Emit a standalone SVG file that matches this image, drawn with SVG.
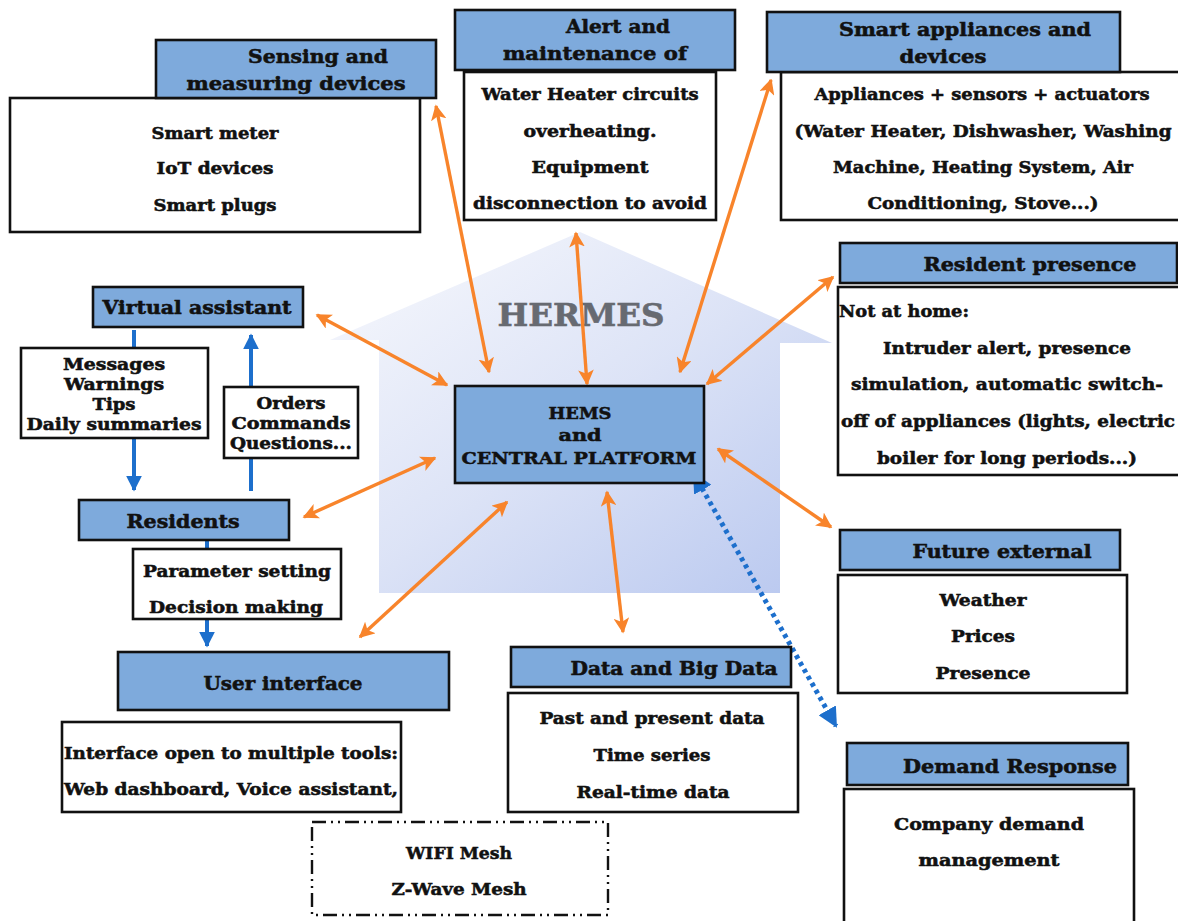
<svg xmlns="http://www.w3.org/2000/svg" width="1178" height="921" viewBox="0 0 1178 921">
<defs>
<linearGradient id="houseGrad" x1="0" y1="0" x2="1" y2="1">
<stop offset="0" stop-color="#f8f9fd"/>
<stop offset="0.5" stop-color="#dbe2f6"/>
<stop offset="1" stop-color="#b4c4ee"/>
</linearGradient>
<marker id="oa" viewBox="0 0 10 10" refX="9" refY="5" markerWidth="4.6" markerHeight="4.6" orient="auto-start-reverse" markerUnits="strokeWidth">
<path d="M0,0 L10,5 L0,10 L2.5,5 z" fill="#f8842b"/>
</marker>
<marker id="ba" viewBox="0 0 10 10" refX="9" refY="5" markerWidth="4" markerHeight="4" orient="auto-start-reverse" markerUnits="strokeWidth">
<path d="M0,0 L10,5 L0,10 z" fill="#1d6fcc"/>
</marker>
</defs>
<style>
.hdr{fill:#7eaadc;stroke:#111;stroke-width:2.6}
.box{fill:#fff;stroke:#111;stroke-width:2.6}
.dash{fill:#fff;stroke:#111;stroke-width:2.4;stroke-dasharray:14 5 2 5 2 5}
text{font-family:"DejaVu Serif","Liberation Serif",serif;font-weight:bold;fill:#111;stroke:#111;stroke-width:0.55;text-anchor:middle}
.t{font-size:17px}
.h{font-size:19px}
.s{font-size:16.5px}
.oc{stroke:#f8842b;stroke-width:3.4;fill:none;marker-start:url(#oa);marker-end:url(#oa)}
.bc{stroke:#1d6fcc;stroke-width:4;fill:none;marker-end:url(#ba)}
</style>
<rect width="1178" height="921" fill="#fff"/>

<g id="house">
<polygon points="580,232 832,343 780,343 780,593 379,593 379,340 330,340" fill="url(#houseGrad)" opacity="0.95"/>
<text x="581" y="326" style="font-size:31px;fill:#676a71;stroke:#676a71" textLength="167" lengthAdjust="spacingAndGlyphs">HERMES</text>
</g>

<g id="connectors">
<line class="oc" x1="436" y1="106" x2="489" y2="372"/>
<line class="oc" x1="576" y1="233" x2="587" y2="384"/>
<line class="oc" x1="771" y1="80" x2="680" y2="372"/>
<line class="oc" x1="833" y1="277" x2="707" y2="384"/>
<line class="oc" x1="718" y1="449" x2="831" y2="527"/>
<line class="oc" x1="607" y1="492" x2="623" y2="632"/>
<line class="oc" x1="360" y1="637" x2="507" y2="502"/>
<line class="oc" x1="304" y1="517" x2="435" y2="458"/>
<line class="oc" x1="317" y1="315" x2="447" y2="385"/>
<line x1="694" y1="474" x2="836" y2="726" stroke="#1d6fcc" stroke-width="5" stroke-dasharray="4 4" marker-start="url(#ba)" marker-end="url(#ba)"/>
<line class="bc" x1="134" y1="330" x2="134" y2="490"/>
<line class="bc" x1="251" y1="491" x2="251" y2="335"/>
<line class="bc" x1="207" y1="540" x2="207" y2="646"/>
</g>

<g id="sensing">
<rect class="box" x="10" y="98" width="410" height="134"/>
<rect class="hdr" x="156" y="40" width="280" height="58"/>
<text class="h" x="318" y="63" textLength="140" lengthAdjust="spacingAndGlyphs">Sensing and</text>
<text class="h" x="296" y="90" textLength="219" lengthAdjust="spacingAndGlyphs">measuring devices</text>
<text class="t" x="215" y="139" textLength="127" lengthAdjust="spacingAndGlyphs">Smart meter</text>
<text class="t" x="215" y="174" textLength="117" lengthAdjust="spacingAndGlyphs">IoT devices</text>
<text class="t" x="215" y="211" textLength="123" lengthAdjust="spacingAndGlyphs">Smart plugs</text>
</g>

<g id="alert">
<rect class="box" x="464" y="72" width="252" height="148"/>
<rect class="hdr" x="455" y="10" width="280" height="60"/>
<text class="h" x="618" y="33" textLength="104" lengthAdjust="spacingAndGlyphs">Alert and</text>
<text class="h" x="595" y="60" textLength="184" lengthAdjust="spacingAndGlyphs">maintenance of</text>
<text class="t" x="590" y="100" textLength="217" lengthAdjust="spacingAndGlyphs">Water Heater circuits</text>
<text class="t" x="590" y="137" textLength="133" lengthAdjust="spacingAndGlyphs">overheating.</text>
<text class="t" x="590" y="173" textLength="117" lengthAdjust="spacingAndGlyphs">Equipment</text>
<text class="t" x="590" y="209" textLength="234" lengthAdjust="spacingAndGlyphs">disconnection to avoid</text>
</g>

<g id="smart">
<rect class="box" x="781" y="72" width="400" height="148"/>
<rect class="hdr" x="767" y="12" width="353" height="60"/>
<text class="h" x="965" y="36" textLength="252" lengthAdjust="spacingAndGlyphs">Smart appliances and</text>
<text class="h" x="943" y="63" textLength="87" lengthAdjust="spacingAndGlyphs">devices</text>
<text class="t" x="982" y="100" textLength="335" lengthAdjust="spacingAndGlyphs">Appliances + sensors + actuators</text>
<text class="t" x="983" y="137" textLength="377" lengthAdjust="spacingAndGlyphs">(Water Heater, Dishwasher, Washing</text>
<text class="t" x="983" y="173" textLength="300" lengthAdjust="spacingAndGlyphs">Machine, Heating System, Air</text>
<text class="t" x="983" y="209" textLength="231" lengthAdjust="spacingAndGlyphs">Conditioning, Stove...)</text>
</g>

<g id="presence">
<rect class="box" x="838" y="287" width="345" height="188"/>
<rect class="hdr" x="840" y="243" width="337" height="40"/>
<text class="h" x="1030" y="271" textLength="213" lengthAdjust="spacingAndGlyphs">Resident presence</text>
<text class="t" x="839" y="317" style="text-anchor:start" textLength="130" lengthAdjust="spacingAndGlyphs">Not at home:</text>
<text class="t" x="1007" y="354" textLength="248" lengthAdjust="spacingAndGlyphs">Intruder alert, presence</text>
<text class="t" x="1007" y="390" textLength="312" lengthAdjust="spacingAndGlyphs">simulation, automatic switch-</text>
<text class="t" x="1008" y="427" textLength="334" lengthAdjust="spacingAndGlyphs">off of appliances (lights, electric</text>
<text class="t" x="1007" y="464" textLength="260" lengthAdjust="spacingAndGlyphs">boiler for long periods...)</text>
</g>

<g id="future">
<rect class="box" x="838" y="575" width="289" height="118"/>
<rect class="hdr" x="840" y="530" width="280" height="40"/>
<text class="h" x="1002" y="558" textLength="179" lengthAdjust="spacingAndGlyphs">Future external</text>
<text class="t" x="983" y="606" textLength="87" lengthAdjust="spacingAndGlyphs">Weather</text>
<text class="t" x="983" y="642" textLength="64" lengthAdjust="spacingAndGlyphs">Prices</text>
<text class="t" x="983" y="679" textLength="95" lengthAdjust="spacingAndGlyphs">Presence</text>
</g>

<g id="demand">
<rect class="box" x="844" y="789" width="290" height="140"/>
<rect class="hdr" x="847" y="743" width="281" height="42"/>
<text class="h" x="1010" y="773" textLength="214" lengthAdjust="spacingAndGlyphs">Demand Response</text>
<text class="t" x="989" y="830" textLength="190" lengthAdjust="spacingAndGlyphs">Company demand</text>
<text class="t" x="989" y="866" textLength="141" lengthAdjust="spacingAndGlyphs">management</text>
</g>

<g id="data">
<rect class="box" x="508" y="693" width="290" height="119"/>
<rect class="hdr" x="511" y="647" width="280" height="40"/>
<text class="h" x="674" y="675" textLength="207" lengthAdjust="spacingAndGlyphs">Data and Big Data</text>
<text class="t" x="652" y="724" textLength="225" lengthAdjust="spacingAndGlyphs">Past and present data</text>
<text class="t" x="652" y="761" textLength="117" lengthAdjust="spacingAndGlyphs">Time series</text>
<text class="t" x="653" y="798" textLength="153" lengthAdjust="spacingAndGlyphs">Real-time data</text>
</g>

<g id="mesh">
<rect class="dash" x="312" y="822" width="296" height="93"/>
<text class="t" x="459" y="859" textLength="106" lengthAdjust="spacingAndGlyphs">WIFI Mesh</text>
<text class="t" x="459" y="895" textLength="135" lengthAdjust="spacingAndGlyphs">Z-Wave Mesh</text>
</g>

<g id="ui">
<rect class="hdr" x="118" y="652" width="331" height="58"/>
<text class="h" x="283" y="690" textLength="159" lengthAdjust="spacingAndGlyphs">User interface</text>
<rect class="box" x="62" y="722" width="339" height="90"/>
<text class="t" x="231" y="759" textLength="334" lengthAdjust="spacingAndGlyphs">Interface open to multiple tools:</text>
<text class="t" x="231" y="795" textLength="334" lengthAdjust="spacingAndGlyphs">Web dashboard, Voice assistant,</text>
</g>

<g id="residents">
<rect class="hdr" x="79" y="500" width="210" height="40"/>
<text class="h" x="183" y="528" textLength="113" lengthAdjust="spacingAndGlyphs">Residents</text>
</g>

<g id="params">
<rect class="box" x="133" y="549" width="208" height="70"/>
<text class="t" x="237" y="577" textLength="188" lengthAdjust="spacingAndGlyphs">Parameter setting</text>
<text class="t" x="236" y="613" textLength="174" lengthAdjust="spacingAndGlyphs">Decision making</text>
</g>

<g id="va">
<rect class="hdr" x="93" y="287" width="210" height="40"/>
<text class="h" x="197" y="314" textLength="189" lengthAdjust="spacingAndGlyphs">Virtual assistant</text>
</g>

<g id="messages">
<rect class="box" x="21" y="348" width="187" height="90"/>
<text class="s" x="114" y="370" textLength="102" lengthAdjust="spacingAndGlyphs">Messages</text>
<text class="s" x="114" y="390" textLength="100" lengthAdjust="spacingAndGlyphs">Warnings</text>
<text class="s" x="114" y="410" textLength="43" lengthAdjust="spacingAndGlyphs">Tips</text>
<text class="s" x="114" y="430" textLength="175" lengthAdjust="spacingAndGlyphs">Daily summaries</text>
</g>

<g id="orders">
<rect class="box" x="224" y="387" width="134" height="71"/>
<text class="s" x="291" y="409" textLength="69" lengthAdjust="spacingAndGlyphs">Orders</text>
<text class="s" x="291" y="429" textLength="119" lengthAdjust="spacingAndGlyphs">Commands</text>
<text class="s" x="291" y="449" textLength="122" lengthAdjust="spacingAndGlyphs">Questions...</text>
</g>

<g id="hems">
<rect class="hdr" x="455" y="386" width="249" height="97"/>
<text class="t" x="580" y="419" textLength="63" lengthAdjust="spacingAndGlyphs">HEMS</text>
<text class="t" x="580" y="441" textLength="43" lengthAdjust="spacingAndGlyphs">and</text>
<text class="t" x="579" y="464" textLength="235" lengthAdjust="spacingAndGlyphs">CENTRAL PLATFORM</text>
</g>
</svg>
